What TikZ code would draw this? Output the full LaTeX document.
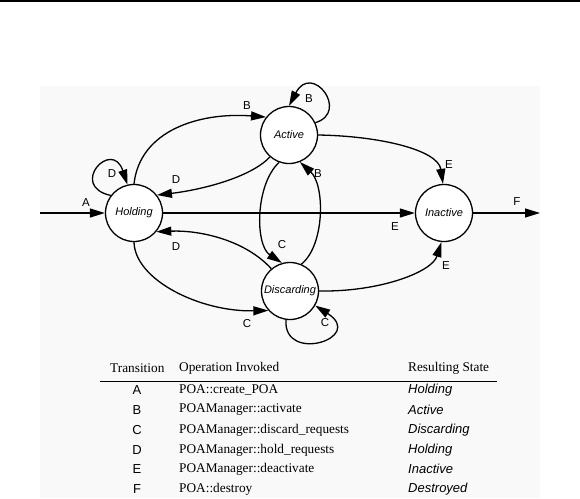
\documentclass[tikz,border=0pt]{standalone}
\usepackage{fontspec}
\setmainfont{Liberation Serif}
\setsansfont{Liberation Sans}
\usetikzlibrary{arrows.meta}
\definecolor{bgray}{HTML}{F9F9F9}
\tikzset{
  state/.style={draw, circle, line width=1.3pt, minimum size=57pt, inner sep=0pt, fill=white, font=\sffamily\itshape\fontsize{11}{12}\selectfont},
  conn/.style={line width=1.3pt, -{Triangle[length=15pt,width=9pt]}},
  lab/.style={font=\sffamily\fontsize{11.5}{13}\selectfont, inner sep=0pt},
  hdr/.style={font=\fontsize{13.3}{15}\selectfont, inner sep=0pt, anchor=west},
  ops/.style={font=\fontsize{13.3}{15}\selectfont, inner sep=0pt, anchor=west},
  res/.style={font=\sffamily\itshape\fontsize{13}{15}\selectfont, inner sep=0pt, anchor=west},
  tl/.style={font=\sffamily\fontsize{13}{15}\selectfont, inner sep=0pt}
}
\begin{document}
\begin{tikzpicture}[x=1pt,y=-1pt]
\useasboundingbox (0,0) rectangle (580,498);
\fill[bgray] (40,86) rectangle (540,498);
\draw[line width=2.2pt] (0,1) -- (580,1);

\node[state] (hold) at (134,213) {Holding};
\node[state] (act) at (289,135) {Active};
\node[state] (inact) at (444,213) {Inactive};
\node[state] (disc) at (290,291) {Discarding};
\coordinate (lin) at (40,213);
\coordinate (rout) at (540,213);

% straight transitions
\draw[conn] (lin) -- (hold.180);
\draw[conn] (hold.0) -- (inact.180);
\draw[conn] (inact.0) -- (rout);

% curves
\draw[conn] (hold.90) .. controls (140,130) and (200,112) .. (act.142);
\draw[conn] (act.229) .. controls (250,178) and (200,190) .. (hold.38);
\draw[conn] (hold.143) .. controls (68,186) and (112,138) .. (hold.103);
\draw[conn] (act.25) .. controls (350,112) and (312,62) .. (act.90);
\draw[conn] (act.0) .. controls (380,136) and (438,150) .. (inact.92);
\draw[conn] (disc.67) .. controls (325,245) and (325,185) .. (act.-68);
\draw[conn] (act.250) .. controls (255,185) and (255,245) .. (disc.106);
\draw[conn] (disc.130) .. controls (245,240) and (200,230) .. (hold.-40);
\draw[conn] (hold.270) .. controls (135,280) and (200,312) .. (disc.222);
\draw[conn] (disc.262) .. controls (283,364) and (366,338) .. (disc.-30);
\draw[conn] (disc.0) .. controls (380,292) and (432,272) .. (inact.265);

% labels
\node[lab] (lA) at (86,203) {A};
\node[lab] (lB1) at (247,106) {B};
\node[lab] (lD1) at (176,180) {D};
\node[lab] (lD2) at (112,174) {D};
\node[lab] (lD3) at (176,247) {D};
\node[lab] (lB2) at (309,99) {B};
\node[lab] (lE1) at (449,165) {E};
\node[lab] (lB3) at (318,174) {B};
\node[lab] (lC1) at (282,245) {C};
\node[lab] (lE2) at (395,227) {E};
\node[lab] (lF) at (517,202) {F};
\node[lab] (lC2) at (247,324) {C};
\node[lab] (lC3) at (325,323) {C};
\node[lab] (lE3) at (446,266) {E};

% table
\node[hdr] (h1) at (110,368) {Transition};
\node[hdr] (h2) at (179,368) {Operation Invoked};
\node[hdr] (h3) at (408,368) {Resulting State};
\draw[line width=1pt] (100,381) -- (497,381);

\node[tl] (tA) at (137,390) {A};
\node[ops] (oA) at (179,390) {POA::create\_POA};
\node[res] (rA) at (408,390) {Holding};
\node[tl] (tB) at (137,410) {B};
\node[ops] (oB) at (179,410) {POAManager::activate};
\node[res] (rB) at (408,410) {Active};
\node[tl] (tC) at (137,430) {C};
\node[ops] (oC) at (179,430) {POAManager::discard\_requests};
\node[res] (rC) at (408,430) {Discarding};
\node[tl] (tD) at (137,450) {D};
\node[ops] (oD) at (179,450) {POAManager::hold\_requests};
\node[res] (rD) at (408,450) {Holding};
\node[tl] (tE) at (137,469) {E};
\node[ops] (oE) at (179,469) {POAManager::deactivate};
\node[res] (rE) at (408,469) {Inactive};
\node[tl] (tF) at (137,489) {F};
\node[ops] (oF) at (179,489) {POA::destroy};
\node[res] (rF) at (408,489) {Destroyed};
\end{tikzpicture}
\end{document}
